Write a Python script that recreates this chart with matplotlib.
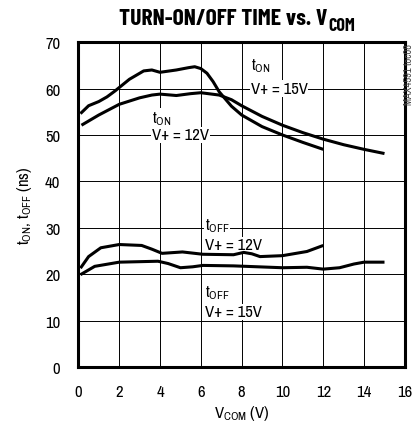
import matplotlib
matplotlib.use("Agg")
import matplotlib.pyplot as plt
from matplotlib import font_manager

names = {f.name for f in font_manager.fontManager.ttflist}
BODY = "Archivo Narrow" if "Archivo Narrow" in names else "DejaVu Sans"
TITLE = "Barlow Condensed" if "Barlow Condensed" in names else BODY

plt.rcParams["font.family"] = [BODY, "DejaVu Sans"]
plt.rcParams["mathtext.fontset"] = "custom"
plt.rcParams["mathtext.rm"] = BODY
plt.rcParams["mathtext.default"] = "rm"

# tON curve with the higher peak (ends at 12 V)
ton_a_x = [0.1, 0.5, 1.0, 1.4, 1.8, 2.5, 3.2, 3.6, 4.0, 4.8, 5.4, 5.7, 6.0, 6.3, 6.6, 6.9, 7.5, 8.0, 9.0, 10.0, 11.0, 12.0]
ton_a_y = [54.6, 56.3, 57.2, 58.2, 59.5, 62.0, 63.8, 64.0, 63.5, 64.0, 64.5, 64.7, 64.3, 63.3, 61.5, 59.3, 56.2, 54.3, 51.8, 50.0, 48.4, 46.9]
# tON curve that continues to 15 V
ton_b_x = [0.15, 1.0, 2.0, 3.0, 3.6, 4.0, 4.8, 5.5, 6.0, 6.9, 7.5, 8.0, 9.0, 10.0, 11.0, 12.0, 13.0, 14.0, 15.0]
ton_b_y = [52.1, 54.3, 56.6, 58.0, 58.6, 58.8, 58.5, 58.9, 59.1, 58.6, 57.6, 56.3, 54.0, 52.1, 50.5, 49.1, 47.9, 46.9, 46.0]
# tOFF, V+ = 12V
toff_12_x = [0.1, 0.5, 1.1, 2.0, 3.1, 3.6, 4.1, 5.1, 6.1, 7.6, 8.1, 8.5, 8.9, 10.0, 11.2, 12.0]
toff_12_y = [21.3, 23.8, 25.7, 26.4, 26.2, 25.4, 24.5, 24.8, 24.3, 24.2, 24.7, 24.4, 23.8, 24.0, 24.9, 26.2]
# tOFF, V+ = 15V
toff_15_x = [0.1, 0.8, 2.0, 3.9, 4.4, 5.0, 5.6, 6.1, 7.6, 10.0, 11.2, 12.0, 12.8, 13.5, 14.0, 15.0]
toff_15_y = [19.9, 21.7, 22.6, 22.8, 22.3, 21.4, 21.6, 21.9, 21.8, 21.4, 21.5, 21.1, 21.4, 22.2, 22.6, 22.6]

x_ticks = list(range(0, 17, 2))
y_ticks = list(range(0, 71, 10))

fig = plt.figure(figsize=(4.17, 4.27), dpi=100)
ax = fig.add_axes([0.188, 0.138, 0.783, 0.761])

for xs, ys in [(ton_a_x, ton_a_y), (ton_b_x, ton_b_y), (toff_12_x, toff_12_y), (toff_15_x, toff_15_y)]:
    ax.plot(xs, ys, color="black", linewidth=2.2, solid_capstyle="butt",
            solid_joinstyle="round", zorder=3)

ax.set_xlim(0, 16)
ax.set_ylim(0, 70)
ax.set_xticks(x_ticks)
ax.set_yticks(y_ticks)
ax.grid(True, color="black", linewidth=0.7)
ax.tick_params(length=0, labelsize=12)
ax.tick_params(axis="x", pad=12)
ax.tick_params(axis="y", pad=13)
for s in ax.spines.values():
    s.set_linewidth(2.2)

box = dict(facecolor="white", edgecolor="none", pad=0.5)
ax.text(8.45, 63.2, "t$_{ON}$", fontsize=12, ha="left", va="bottom", bbox=box, zorder=4)
ax.text(8.45, 60, "V+ = 15V", fontsize=12, ha="left", va="center", bbox=box, zorder=4)
ax.text(3.6, 51.8, "t$_{ON}$", fontsize=12, ha="left", va="bottom", bbox=box, zorder=4)
ax.text(3.6, 50, "V+ = 12V", fontsize=12, ha="left", va="center", bbox=box, zorder=4)
ax.text(6.2, 28.6, "t$_{OFF}$", fontsize=12, ha="left", va="bottom", bbox=box, zorder=2)
ax.text(6.2, 26.3, "V+ = 12V", fontsize=12, ha="left", va="center", bbox=box, zorder=2)
ax.text(6.2, 14.3, "t$_{OFF}$", fontsize=12, ha="left", va="bottom", bbox=box, zorder=2)
ax.text(6.2, 11.9, "V+ = 15V", fontsize=12, ha="left", va="center", bbox=box, zorder=2)

ax.set_xlabel("V$_{COM}$ (V)", fontsize=12, labelpad=3)
ax.set_ylabel("t$_{ON}$, t$_{OFF}$ (ns)", fontsize=12, labelpad=8)

title = fig.text(0.285, 0.941, "TURN-ON/OFF TIME vs. V", fontsize=17,
                 family=TITLE, fontweight="bold", ha="left", va="baseline")
ax.annotate("COM", xy=(1, 0), xycoords=title, xytext=(0.5, -1.5),
            textcoords="offset points", fontsize=13, family=TITLE,
            fontweight="bold", ha="left", va="baseline", annotation_clip=False)

fig.text(0.98, 0.897, "MAX4591 toc08", fontsize=7.5, color="#444444",
         rotation=90, ha="center", va="top")

fig.savefig("out.png", dpi=100)
